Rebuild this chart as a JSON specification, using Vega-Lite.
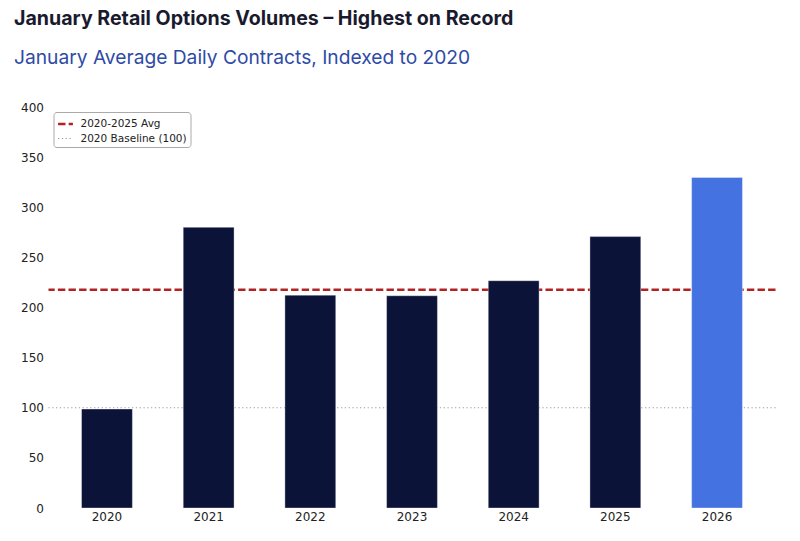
{
  "$schema": "https://vega.github.io/schema/vega-lite/v6.json",
  "width": 727,
  "height": 401,
  "autosize": {"type": "none"},
  "padding": {"left": 48.5, "top": 107, "right": 24.5, "bottom": 33},
  "background": "white",
  "title": {
    "text": "January Retail Options Volumes – Highest on Record",
    "subtitle": "January Average Daily Contracts, Indexed to 2020",
    "anchor": "start",
    "frame": "group",
    "dx": -34.5,
    "offset": 32,
    "font": "Inter",
    "fontSize": 19.6,
    "fontWeight": "bold",
    "color": "#1a1a2e",
    "subtitleFont": "Inter",
    "subtitleFontSize": 19.2,
    "subtitleColor": "#2e4ba6",
    "subtitlePadding": 19
  },
  "config": {
    "view": {"stroke": null},
    "axis": {"labelFont": "DejaVu Sans", "labelFontSize": 12, "labelColor": "#222", "domain": false, "grid": false, "ticks": false, "title": null}
  },
  "datasets": {
    "bars": [
      {"year": "2020", "index": 98.7, "group": "past"},
      {"year": "2021", "index": 280.0, "group": "past"},
      {"year": "2022", "index": 212.3, "group": "past"},
      {"year": "2023", "index": 211.7, "group": "past"},
      {"year": "2024", "index": 226.7, "group": "past"},
      {"year": "2025", "index": 270.7, "group": "past"},
      {"year": "2026", "index": 329.7, "group": "current"}
    ],
    "refs": [
      {"label": "2020-2025 Avg", "value": 217.7},
      {"label": "2020 Baseline (100)", "value": 100}
    ]
  },
  "layer": [
    {
      "data": {"name": "refs"},
      "mark": {"type": "rule"},
      "encoding": {
        "y": {"field": "value", "type": "quantitative", "scale": {"domain": [0, 400]}},
        "color": {
          "field": "label", "type": "nominal",
          "scale": {"domain": ["2020-2025 Avg", "2020 Baseline (100)"], "range": ["#b22222", "#a0a0a0"]},
          "legend": {
            "title": null, "orient": "top-left", "offset": 5,
            "symbolType": "stroke", "symbolSize": 220, "symbolStrokeWidth": 2.5,
            "labelFont": "DejaVu Sans", "labelFontSize": 10.5, "labelColor": "#222",
            "strokeColor": "#aaaaaa", "cornerRadius": 3, "padding": 3, "rowPadding": 0, "symbolOffset": 0, "labelOffset": 6
          }
        },
        "strokeDash": {
          "field": "label", "type": "nominal",
          "scale": {"domain": ["2020-2025 Avg", "2020 Baseline (100)"], "range": [[7.4, 3.2], [1.3, 2.5]]},
          "legend": null
        },
        "strokeWidth": {
          "field": "label", "type": "nominal",
          "scale": {"domain": ["2020-2025 Avg", "2020 Baseline (100)"], "range": [2.5, 1.2]},
          "legend": null
        }
      }
    },
    {
      "data": {"name": "bars"},
      "mark": {"type": "bar", "stroke": "#ffffff", "strokeOpacity": 0.5, "strokeWidth": 0.7},
      "encoding": {
        "x": {
          "field": "year", "type": "nominal", "sort": null,
          "scale": {"paddingInner": 0.5, "paddingOuter": 0.325},
          "axis": {"labelAngle": 0, "labelPadding": 3}
        },
        "y": {
          "field": "index", "type": "quantitative",
          "scale": {"domain": [0, 400], "nice": false},
          "axis": {"values": [0, 50, 100, 150, 200, 250, 300, 350, 400], "labelPadding": 5}
        },
        "fill": {
          "field": "group", "type": "nominal",
          "scale": {"domain": ["past", "current"], "range": ["#0c1338", "#4472e0"]},
          "legend": null
        }
      }
    }
  ]
}
